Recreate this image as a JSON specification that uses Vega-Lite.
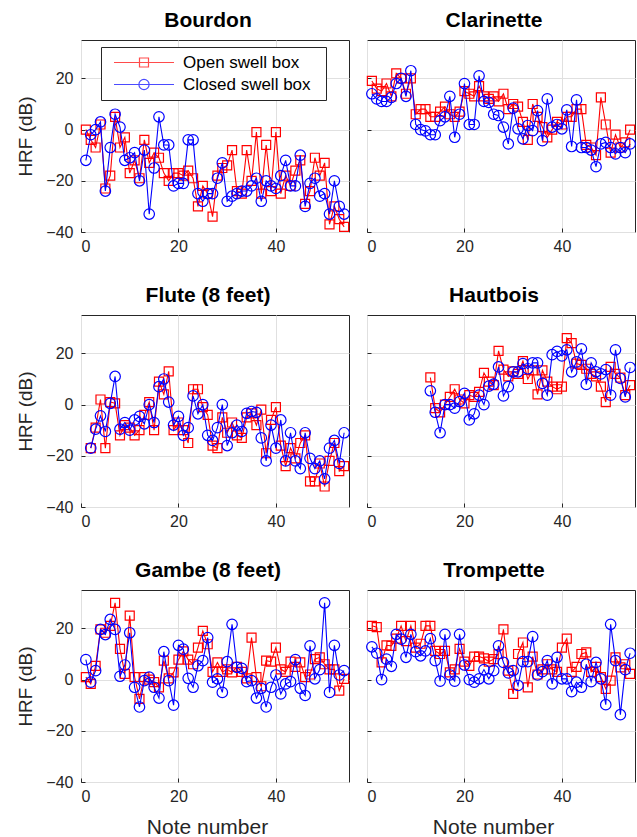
{
  "$schema": "https://vega.github.io/schema/vega-lite/v6.json",
  "background": "white",
  "padding": {"left": 16, "top": 9, "right": 2, "bottom": 2},
  "bounds": "flush",
  "columns": 2,
  "spacing": {"row": 83, "column": 18},
  "config": {
    "view": {"stroke": "#262626", "strokeWidth": 1},
    "font": "Liberation Sans",
    "title": {"font": "Liberation Sans", "fontSize": 21, "fontWeight": "bold", "color": "#000000", "offset": 9, "dx": -7},
    "axis": {
      "domain": false,
      "grid": true,
      "gridColor": "#e0e0e0",
      "gridWidth": 1,
      "ticks": true,
      "tickSize": -4,
      "tickColor": "#262626",
      "labelFont": "Liberation Sans",
      "labelFontSize": 16,
      "labelColor": "#262626",
      "titleFont": "Liberation Sans",
      "titleFontSize": 19,
      "titleFontWeight": "normal",
      "titleColor": "#262626"
    },
    "legend": {"labelFont": "Liberation Sans"}
  },
  "datasets": {
    "Bourdon": [
      {"n":1,"o":0,"c":-12},{"n":2,"o":-4,"c":-2},{"n":3,"o":-7,"c":0},{"n":4,"o":2,"c":3},{"n":5,"o":-23,"c":-24},{"n":6,"o":-18,"c":-7},{"n":7,"o":5,"c":6},{"n":8,"o":-7,"c":1},{"n":9,"o":-3,"c":-12},{"n":10,"o":-17,"c":-11},{"n":11,"o":-12,"c":-9},{"n":12,"o":-19,"c":-20},{"n":13,"o":-4,"c":-8},{"n":14,"o":-13,"c":-33},{"n":15,"o":-9,"c":-15},{"n":16,"o":-11,"c":5},{"n":17,"o":-17,"c":-6},{"n":18,"o":-20,"c":-6},{"n":19,"o":-17,"c":-22},{"n":20,"o":-17,"c":-21},{"n":21,"o":-18,"c":-21},{"n":22,"o":-16,"c":-4},{"n":23,"o":-19,"c":-4},{"n":24,"o":-30,"c":-25},{"n":25,"o":-22,"c":-28},{"n":26,"o":-25,"c":-25},{"n":27,"o":-34,"c":-25},{"n":28,"o":-18,"c":-19},{"n":29,"o":-15,"c":-13},{"n":30,"o":-14,"c":-28},{"n":31,"o":-8,"c":-26},{"n":32,"o":-24,"c":-25},{"n":33,"o":-25,"c":-24},{"n":34,"o":-8,"c":-24},{"n":35,"o":-20,"c":-22},{"n":36,"o":-1,"c":-19},{"n":37,"o":-25,"c":-28},{"n":38,"o":-6,"c":-20},{"n":39,"o":-24,"c":-22},{"n":40,"o":-1,"c":-23},{"n":41,"o":-25,"c":-18},{"n":42,"o":-18,"c":-12},{"n":43,"o":-22,"c":-22},{"n":44,"o":-16,"c":-22},{"n":45,"o":-12,"c":-10},{"n":46,"o":-29,"c":-30},{"n":47,"o":-24,"c":-21},{"n":48,"o":-11,"c":-19},{"n":49,"o":-18,"c":-26},{"n":50,"o":-13,"c":-25},{"n":51,"o":-37,"c":-33},{"n":52,"o":-30,"c":-20},{"n":53,"o":-35,"c":-30},{"n":54,"o":-38,"c":-33}
    ],
    "Clarinette": [
      {"n":1,"o":19,"c":14},{"n":2,"o":16,"c":12},{"n":3,"o":15,"c":11},{"n":4,"o":18,"c":11},{"n":5,"o":13,"c":12.6},{"n":6,"o":22,"c":18},{"n":7,"o":20,"c":20},{"n":8,"o":14,"c":13},{"n":9,"o":20,"c":23},{"n":10,"o":6,"c":2},{"n":11,"o":8,"c":0},{"n":12,"o":8,"c":-0.5},{"n":13,"o":5,"c":-2},{"n":14,"o":5,"c":-2},{"n":15,"o":7,"c":3.5},{"n":16,"o":9,"c":5},{"n":17,"o":6,"c":13},{"n":18,"o":5,"c":-3},{"n":19,"o":7,"c":6},{"n":20,"o":15,"c":18},{"n":21,"o":14,"c":2},{"n":22,"o":13,"c":2},{"n":23,"o":17,"c":21},{"n":24,"o":13,"c":11},{"n":25,"o":12,"c":10.6},{"n":26,"o":13,"c":6},{"n":27,"o":11,"c":5.5},{"n":28,"o":14,"c":1},{"n":29,"o":8,"c":-5.6},{"n":30,"o":10,"c":8.4},{"n":31,"o":9,"c":0.3},{"n":32,"o":3,"c":-3.6},{"n":33,"o":-4,"c":1.6},{"n":34,"o":10,"c":-0.4},{"n":35,"o":5,"c":7.4},{"n":36,"o":1,"c":-4.3},{"n":37,"o":-3,"c":12},{"n":38,"o":0,"c":1},{"n":39,"o":3,"c":2},{"n":40,"o":2,"c":0.3},{"n":41,"o":5,"c":7.7},{"n":42,"o":5,"c":-6.6},{"n":43,"o":8,"c":11.6},{"n":44,"o":8,"c":-7},{"n":45,"o":-6,"c":-7},{"n":46,"o":-7,"c":-8},{"n":47,"o":-10,"c":-14.5},{"n":48,"o":12.6,"c":-5.6},{"n":49,"o":2,"c":-5},{"n":50,"o":-9,"c":-7},{"n":51,"o":-2,"c":-9.5},{"n":52,"o":-7,"c":-7},{"n":53,"o":-5,"c":-9},{"n":54,"o":0,"c":-5.6}
    ],
    "Flute": [
      {"n":2,"o":-17,"c":-17},{"n":3,"o":-9,"c":-9.6},{"n":4,"o":2,"c":-4.4},{"n":5,"o":-17,"c":-10.5},{"n":6,"o":1,"c":0.5},{"n":7,"o":0.5,"c":11},{"n":8,"o":-12,"c":-9.6},{"n":9,"o":-8,"c":-7},{"n":10,"o":-9,"c":-10},{"n":11,"o":-12,"c":-6},{"n":12,"o":-10,"c":-4.6},{"n":13,"o":-4,"c":-7.5},{"n":14,"o":1,"c":0},{"n":15,"o":-10,"c":-7},{"n":16,"o":9,"c":7},{"n":17,"o":4,"c":10},{"n":18,"o":13,"c":1},{"n":19,"o":-10,"c":-8},{"n":20,"o":-7,"c":-4.6},{"n":21,"o":-10,"c":-12},{"n":22,"o":-15,"c":-9},{"n":23,"o":6,"c":3.4},{"n":24,"o":6,"c":-3.6},{"n":25,"o":-1,"c":0},{"n":26,"o":-4,"c":-12},{"n":27,"o":-16,"c":-14},{"n":28,"o":-17,"c":-9},{"n":29,"o":-5,"c":0},{"n":30,"o":-11,"c":-16},{"n":31,"o":-7,"c":-11},{"n":32,"o":-12,"c":-8},{"n":33,"o":-13,"c":-10.5},{"n":34,"o":-5,"c":-3.4},{"n":35,"o":-3.4,"c":-2.7},{"n":36,"o":-8,"c":-3},{"n":37,"o":-2,"c":-13},{"n":38,"o":-19,"c":-22},{"n":39,"o":-6,"c":-8},{"n":40,"o":-1,"c":-17},{"n":41,"o":-16,"c":-6},{"n":42,"o":-24,"c":-22},{"n":43,"o":-17,"c":-11},{"n":44,"o":-21,"c":-22},{"n":45,"o":-15,"c":-25},{"n":46,"o":-12,"c":-11},{"n":47,"o":-30,"c":-21},{"n":48,"o":-30,"c":-25},{"n":49,"o":-23,"c":-22},{"n":50,"o":-32,"c":-29},{"n":51,"o":-22,"c":-17},{"n":52,"o":-15,"c":-14},{"n":53,"o":-26,"c":-23},{"n":54,"o":-24,"c":-11}
    ],
    "Hautbois": [
      {"n":13,"o":10.6,"c":5.4},{"n":14,"o":-1.4,"c":-3},{"n":15,"o":-3,"c":-11},{"n":16,"o":0,"c":0},{"n":17,"o":3,"c":0},{"n":18,"o":6,"c":-1.4},{"n":19,"o":2,"c":1.2},{"n":20,"o":0.5,"c":4.4},{"n":21,"o":3.7,"c":-6},{"n":22,"o":3,"c":-3.6},{"n":23,"o":5,"c":3.7},{"n":24,"o":12.4,"c":0},{"n":25,"o":9,"c":7.2},{"n":26,"o":7.6,"c":8},{"n":27,"o":21,"c":14.7},{"n":28,"o":13.7,"c":3.4},{"n":29,"o":11,"c":7},{"n":30,"o":13,"c":12.8},{"n":31,"o":12,"c":12.8},{"n":32,"o":17,"c":16},{"n":33,"o":10,"c":14},{"n":34,"o":13.4,"c":16.3},{"n":35,"o":4,"c":16.3},{"n":36,"o":13.4,"c":8.3},{"n":37,"o":9,"c":3.7},{"n":38,"o":7,"c":19.5},{"n":39,"o":6,"c":20.8},{"n":40,"o":7,"c":19},{"n":41,"o":26,"c":21.4},{"n":42,"o":24,"c":12.8},{"n":43,"o":16,"c":16.7},{"n":44,"o":15.5,"c":21.8},{"n":45,"o":14,"c":7.9},{"n":46,"o":12,"c":16.3},{"n":47,"o":11,"c":12.8},{"n":48,"o":7,"c":12},{"n":49,"o":1,"c":13.7},{"n":50,"o":14.7,"c":3.7},{"n":51,"o":12,"c":21.4},{"n":52,"o":10.5,"c":10.2},{"n":53,"o":3.7,"c":3},{"n":54,"o":7.6,"c":14.5}
    ],
    "Gambe": [
      {"n":1,"o":1,"c":7.8},{"n":2,"o":-1.7,"c":-1},{"n":3,"o":5.4,"c":3.5},{"n":4,"o":19.6,"c":19.6},{"n":5,"o":18.3,"c":17.6},{"n":6,"o":21,"c":23.5},{"n":7,"o":30,"c":19.6},{"n":8,"o":12,"c":1.3},{"n":9,"o":2.2,"c":5.7},{"n":10,"o":25,"c":18.3},{"n":11,"o":1,"c":-3},{"n":12,"o":-7.5,"c":-10.7},{"n":13,"o":1,"c":-0.4},{"n":14,"o":0,"c":1},{"n":15,"o":-1,"c":-3},{"n":16,"o":-3,"c":-7.2},{"n":17,"o":7.4,"c":10.9},{"n":18,"o":0.5,"c":-0.4},{"n":19,"o":2.8,"c":-10},{"n":20,"o":7.8,"c":13.4},{"n":21,"o":11,"c":11.9},{"n":22,"o":7.8,"c":0.5},{"n":23,"o":6,"c":-3},{"n":24,"o":12.5,"c":5.4},{"n":25,"o":19,"c":7.4},{"n":26,"o":13.8,"c":16.4},{"n":27,"o":3,"c":-1},{"n":28,"o":6.7,"c":0.3},{"n":29,"o":3,"c":-5},{"n":30,"o":4,"c":7},{"n":31,"o":2.8,"c":21.6},{"n":32,"o":5,"c":4.8},{"n":33,"o":3,"c":4.4},{"n":34,"o":0.5,"c":-0.8},{"n":35,"o":16.4,"c":-0.4},{"n":36,"o":1,"c":-7.2},{"n":37,"o":-2.6,"c":-3.4},{"n":38,"o":7.4,"c":-10.7},{"n":39,"o":7,"c":-3},{"n":40,"o":12.5,"c":1.8},{"n":41,"o":4,"c":-5.6},{"n":42,"o":3,"c":-1.7},{"n":43,"o":7,"c":-0.8},{"n":44,"o":5,"c":7.8},{"n":45,"o":6.7,"c":-3.4},{"n":46,"o":1,"c":-6.2},{"n":47,"o":2,"c":13.2},{"n":48,"o":8,"c":0.3},{"n":49,"o":8.7,"c":3.9},{"n":50,"o":6,"c":30},{"n":51,"o":4,"c":-5},{"n":52,"o":4,"c":13.4},{"n":53,"o":-4.3,"c":1.8},{"n":54,"o":0.3,"c":3.5}
    ],
    "Trompette": [
      {"n":1,"o":21,"c":12.8},{"n":2,"o":20.5,"c":10.3},{"n":3,"o":6.7,"c":0},{"n":4,"o":13.4,"c":8},{"n":5,"o":13.2,"c":5.2},{"n":6,"o":16,"c":17.7},{"n":7,"o":21,"c":15.8},{"n":8,"o":15,"c":8.7},{"n":9,"o":21,"c":17.7},{"n":10,"o":12.5,"c":10.9},{"n":11,"o":14,"c":9.3},{"n":12,"o":21,"c":11.2},{"n":13,"o":21,"c":16},{"n":14,"o":11.2,"c":7.4},{"n":15,"o":10,"c":-0.6},{"n":16,"o":11.2,"c":17.7},{"n":17,"o":2.8,"c":1.8},{"n":18,"o":4,"c":-0.6},{"n":19,"o":12,"c":17.7},{"n":20,"o":7,"c":5.7},{"n":21,"o":5.4,"c":0},{"n":22,"o":9,"c":-1},{"n":23,"o":9,"c":0.3},{"n":24,"o":8.3,"c":3.9},{"n":25,"o":7,"c":0.3},{"n":26,"o":8,"c":3.5},{"n":27,"o":10,"c":13.2},{"n":28,"o":19.6,"c":6.7},{"n":29,"o":3.5,"c":2.6},{"n":30,"o":-5.6,"c":3.5},{"n":31,"o":10,"c":-2.3},{"n":32,"o":14.5,"c":7},{"n":33,"o":-3,"c":7},{"n":34,"o":9,"c":16.8},{"n":35,"o":2,"c":1.8},{"n":36,"o":4,"c":3.1},{"n":37,"o":6,"c":7.4},{"n":38,"o":4,"c":-1.7},{"n":39,"o":3,"c":8.7},{"n":40,"o":12.5,"c":0.3},{"n":41,"o":16,"c":0.3},{"n":42,"o":3,"c":-4.7},{"n":43,"o":5,"c":-1},{"n":44,"o":10,"c":-3},{"n":45,"o":10.6,"c":6},{"n":46,"o":3,"c":-0.8},{"n":47,"o":5,"c":6.7},{"n":48,"o":1,"c":0.3},{"n":49,"o":-3.6,"c":-9.8},{"n":50,"o":-0.4,"c":21.6},{"n":51,"o":8.7,"c":7.4},{"n":52,"o":4.8,"c":-13.7},{"n":53,"o":6,"c":3.9},{"n":54,"o":2.2,"c":10.3}
    ]
  },
  "concat": [
    {
      "width": 268, "height": 192,
      "title": "Bourdon",
      "data": {"name": "Bourdon"},
      "encoding": {"x": {"field": "n", "type": "quantitative", "scale": {"domain": [0, 55], "nice": false, "zero": false}, "axis": {"values": [0, 20, 40], "title": null, "labelPadding": 10}}},
      "layer": [
        {"mark": {"type": "line", "color": "#ff0000", "strokeWidth": 1.1}, "encoding": {"y": {"field": "o", "type": "quantitative", "scale": {"domain": [-40, 35], "nice": false}, "axis": {"values": [-40, -20, 0, 20], "title": "HRF (dB)", "labelPadding": 12, "titlePadding": 10}}}},
        {"mark": {"type": "point", "shape": "square", "color": "#ff0000", "filled": false, "size": 81, "strokeWidth": 1.2, "opacity": 1}, "encoding": {"y": {"field": "o", "type": "quantitative", "scale": {"domain": [-40, 35], "nice": false}, "axis": {"values": [-40, -20, 0, 20], "title": "HRF (dB)", "labelPadding": 12, "titlePadding": 10}}}},
        {"mark": {"type": "line", "color": "#0000ff", "strokeWidth": 1.1}, "encoding": {"y": {"field": "c", "type": "quantitative", "scale": {"domain": [-40, 35], "nice": false}, "axis": {"values": [-40, -20, 0, 20], "title": "HRF (dB)", "labelPadding": 12, "titlePadding": 10}}}},
        {"mark": {"type": "point", "shape": "circle", "color": "#0000ff", "filled": false, "size": 110, "strokeWidth": 1.2, "opacity": 1}, "encoding": {"y": {"field": "c", "type": "quantitative", "scale": {"domain": [-40, 35], "nice": false}, "axis": {"values": [-40, -20, 0, 20], "title": "HRF (dB)", "labelPadding": 12, "titlePadding": 10}}}},
        {
          "transform": [{"filter": "datum.n < 0"}, {"fold": ["o", "c"], "as": ["s", "v"]}],
          "mark": {"type": "point", "filled": false, "strokeWidth": 1.2},
          "encoding": {
            "y": {"field": "v", "type": "quantitative", "scale": {"domain": [-40, 35], "nice": false}, "axis": {"values": [-40, -20, 0, 20], "title": "HRF (dB)", "labelPadding": 12, "titlePadding": 10}},
            "color": {"field": "s", "type": "nominal", "scale": {"domain": ["o", "c"], "range": ["#ff0000", "#0000ff"]},
              "legend": {"title": null, "orient": "none", "legendX": 20, "legendY": 7, "fillColor": "white", "strokeColor": "#262626", "padding": 5.5, "clipHeight": 20, "rowPadding": 2, "symbolSize": 3600, "symbolStrokeWidth": 1.2, "symbolOffset": 6.5, "labelOffset": 8, "labelFontSize": 17, "labelColor": "#000000", "labelLimit": 300, "labelExpr": "datum.label == 'o' ? 'Open swell box\u00a0\u00a0\u200b' : 'Closed swell box\u00a0\u00a0\u200b'"}},
            "shape": {"field": "s", "type": "nominal", "scale": {"domain": ["o", "c"], "range": ["M-1,0L1,0M-0.15,-0.15L0.15,-0.15L0.15,0.15L-0.15,0.15Z", "M-1,0L1,0M0.17,0A0.17,0.17 0 1,1 -0.17,0A0.17,0.17 0 1,1 0.17,0"]},
              "legend": {"title": null, "orient": "none", "legendX": 20, "legendY": 7, "fillColor": "white", "strokeColor": "#262626", "padding": 5.5, "clipHeight": 20, "rowPadding": 2, "symbolSize": 3600, "symbolStrokeWidth": 1.2, "symbolOffset": 6.5, "labelOffset": 8, "labelFontSize": 17, "labelColor": "#000000", "labelLimit": 300, "labelExpr": "datum.label == 'o' ? 'Open swell box\u00a0\u00a0\u200b' : 'Closed swell box\u00a0\u00a0\u200b'"}}
          }
        }
      ]
    },
    {
      "width": 268, "height": 192,
      "title": "Clarinette",
      "data": {"name": "Clarinette"},
      "encoding": {"x": {"field": "n", "type": "quantitative", "scale": {"domain": [0, 55], "nice": false, "zero": false}, "axis": {"values": [0, 20, 40], "title": null, "labelPadding": 10}}},
      "layer": [
        {"mark": {"type": "line", "color": "#ff0000", "strokeWidth": 1.1}, "encoding": {"y": {"field": "o", "type": "quantitative", "scale": {"domain": [-40, 35], "nice": false}, "axis": {"values": [-40, -20, 0, 20], "title": null, "labels": false}}}},
        {"mark": {"type": "point", "shape": "square", "color": "#ff0000", "filled": false, "size": 81, "strokeWidth": 1.2, "opacity": 1}, "encoding": {"y": {"field": "o", "type": "quantitative", "scale": {"domain": [-40, 35], "nice": false}, "axis": {"values": [-40, -20, 0, 20], "title": null, "labels": false}}}},
        {"mark": {"type": "line", "color": "#0000ff", "strokeWidth": 1.1}, "encoding": {"y": {"field": "c", "type": "quantitative", "scale": {"domain": [-40, 35], "nice": false}, "axis": {"values": [-40, -20, 0, 20], "title": null, "labels": false}}}},
        {"mark": {"type": "point", "shape": "circle", "color": "#0000ff", "filled": false, "size": 110, "strokeWidth": 1.2, "opacity": 1}, "encoding": {"y": {"field": "c", "type": "quantitative", "scale": {"domain": [-40, 35], "nice": false}, "axis": {"values": [-40, -20, 0, 20], "title": null, "labels": false}}}}
      ]
    },
    {
      "width": 268, "height": 192,
      "title": "Flute (8 feet)",
      "data": {"name": "Flute"},
      "encoding": {"x": {"field": "n", "type": "quantitative", "scale": {"domain": [0, 55], "nice": false, "zero": false}, "axis": {"values": [0, 20, 40], "title": null, "labelPadding": 10}}},
      "layer": [
        {"mark": {"type": "line", "color": "#ff0000", "strokeWidth": 1.1}, "encoding": {"y": {"field": "o", "type": "quantitative", "scale": {"domain": [-40, 35], "nice": false}, "axis": {"values": [-40, -20, 0, 20], "title": "HRF (dB)", "labelPadding": 12, "titlePadding": 10}}}},
        {"mark": {"type": "point", "shape": "square", "color": "#ff0000", "filled": false, "size": 81, "strokeWidth": 1.2, "opacity": 1}, "encoding": {"y": {"field": "o", "type": "quantitative", "scale": {"domain": [-40, 35], "nice": false}, "axis": {"values": [-40, -20, 0, 20], "title": "HRF (dB)", "labelPadding": 12, "titlePadding": 10}}}},
        {"mark": {"type": "line", "color": "#0000ff", "strokeWidth": 1.1}, "encoding": {"y": {"field": "c", "type": "quantitative", "scale": {"domain": [-40, 35], "nice": false}, "axis": {"values": [-40, -20, 0, 20], "title": "HRF (dB)", "labelPadding": 12, "titlePadding": 10}}}},
        {"mark": {"type": "point", "shape": "circle", "color": "#0000ff", "filled": false, "size": 110, "strokeWidth": 1.2, "opacity": 1}, "encoding": {"y": {"field": "c", "type": "quantitative", "scale": {"domain": [-40, 35], "nice": false}, "axis": {"values": [-40, -20, 0, 20], "title": "HRF (dB)", "labelPadding": 12, "titlePadding": 10}}}}
      ]
    },
    {
      "width": 268, "height": 192,
      "title": "Hautbois",
      "data": {"name": "Hautbois"},
      "encoding": {"x": {"field": "n", "type": "quantitative", "scale": {"domain": [0, 55], "nice": false, "zero": false}, "axis": {"values": [0, 20, 40], "title": null, "labelPadding": 10}}},
      "layer": [
        {"mark": {"type": "line", "color": "#ff0000", "strokeWidth": 1.1}, "encoding": {"y": {"field": "o", "type": "quantitative", "scale": {"domain": [-40, 35], "nice": false}, "axis": {"values": [-40, -20, 0, 20], "title": null, "labels": false}}}},
        {"mark": {"type": "point", "shape": "square", "color": "#ff0000", "filled": false, "size": 81, "strokeWidth": 1.2, "opacity": 1}, "encoding": {"y": {"field": "o", "type": "quantitative", "scale": {"domain": [-40, 35], "nice": false}, "axis": {"values": [-40, -20, 0, 20], "title": null, "labels": false}}}},
        {"mark": {"type": "line", "color": "#0000ff", "strokeWidth": 1.1}, "encoding": {"y": {"field": "c", "type": "quantitative", "scale": {"domain": [-40, 35], "nice": false}, "axis": {"values": [-40, -20, 0, 20], "title": null, "labels": false}}}},
        {"mark": {"type": "point", "shape": "circle", "color": "#0000ff", "filled": false, "size": 110, "strokeWidth": 1.2, "opacity": 1}, "encoding": {"y": {"field": "c", "type": "quantitative", "scale": {"domain": [-40, 35], "nice": false}, "axis": {"values": [-40, -20, 0, 20], "title": null, "labels": false}}}}
      ]
    },
    {
      "width": 268, "height": 192,
      "title": "Gambe (8 feet)",
      "data": {"name": "Gambe"},
      "encoding": {"x": {"field": "n", "type": "quantitative", "scale": {"domain": [0, 55], "nice": false, "zero": false}, "axis": {"values": [0, 20, 40], "title": "Note number", "labelPadding": 10, "titlePadding": 12, "titleFontSize": 21, "titleX": 126}}},
      "layer": [
        {"mark": {"type": "line", "color": "#ff0000", "strokeWidth": 1.1}, "encoding": {"y": {"field": "o", "type": "quantitative", "scale": {"domain": [-40, 35], "nice": false}, "axis": {"values": [-40, -20, 0, 20], "title": "HRF (dB)", "labelPadding": 12, "titlePadding": 10}}}},
        {"mark": {"type": "point", "shape": "square", "color": "#ff0000", "filled": false, "size": 81, "strokeWidth": 1.2, "opacity": 1}, "encoding": {"y": {"field": "o", "type": "quantitative", "scale": {"domain": [-40, 35], "nice": false}, "axis": {"values": [-40, -20, 0, 20], "title": "HRF (dB)", "labelPadding": 12, "titlePadding": 10}}}},
        {"mark": {"type": "line", "color": "#0000ff", "strokeWidth": 1.1}, "encoding": {"y": {"field": "c", "type": "quantitative", "scale": {"domain": [-40, 35], "nice": false}, "axis": {"values": [-40, -20, 0, 20], "title": "HRF (dB)", "labelPadding": 12, "titlePadding": 10}}}},
        {"mark": {"type": "point", "shape": "circle", "color": "#0000ff", "filled": false, "size": 110, "strokeWidth": 1.2, "opacity": 1}, "encoding": {"y": {"field": "c", "type": "quantitative", "scale": {"domain": [-40, 35], "nice": false}, "axis": {"values": [-40, -20, 0, 20], "title": "HRF (dB)", "labelPadding": 12, "titlePadding": 10}}}}
      ]
    },
    {
      "width": 268, "height": 192,
      "title": "Trompette",
      "data": {"name": "Trompette"},
      "encoding": {"x": {"field": "n", "type": "quantitative", "scale": {"domain": [0, 55], "nice": false, "zero": false}, "axis": {"values": [0, 20, 40], "title": "Note number", "labelPadding": 10, "titlePadding": 12, "titleFontSize": 21, "titleX": 126}}},
      "layer": [
        {"mark": {"type": "line", "color": "#ff0000", "strokeWidth": 1.1}, "encoding": {"y": {"field": "o", "type": "quantitative", "scale": {"domain": [-40, 35], "nice": false}, "axis": {"values": [-40, -20, 0, 20], "title": null, "labels": false}}}},
        {"mark": {"type": "point", "shape": "square", "color": "#ff0000", "filled": false, "size": 81, "strokeWidth": 1.2, "opacity": 1}, "encoding": {"y": {"field": "o", "type": "quantitative", "scale": {"domain": [-40, 35], "nice": false}, "axis": {"values": [-40, -20, 0, 20], "title": null, "labels": false}}}},
        {"mark": {"type": "line", "color": "#0000ff", "strokeWidth": 1.1}, "encoding": {"y": {"field": "c", "type": "quantitative", "scale": {"domain": [-40, 35], "nice": false}, "axis": {"values": [-40, -20, 0, 20], "title": null, "labels": false}}}},
        {"mark": {"type": "point", "shape": "circle", "color": "#0000ff", "filled": false, "size": 110, "strokeWidth": 1.2, "opacity": 1}, "encoding": {"y": {"field": "c", "type": "quantitative", "scale": {"domain": [-40, 35], "nice": false}, "axis": {"values": [-40, -20, 0, 20], "title": null, "labels": false}}}}
      ]
    }
  ]
}
